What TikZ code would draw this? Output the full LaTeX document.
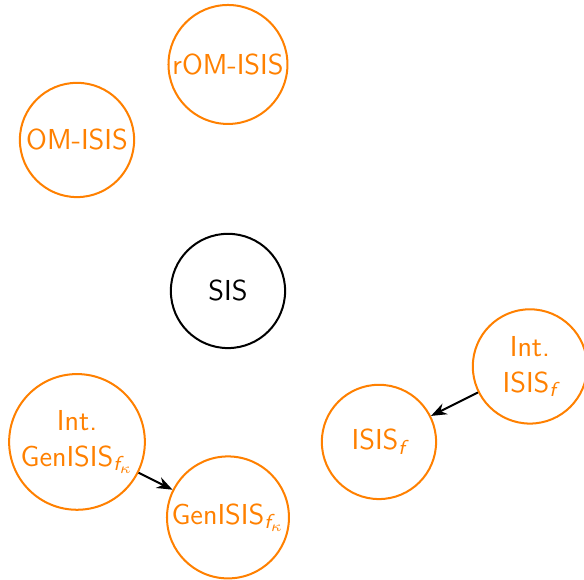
\documentclass[tikz,border=0pt]{standalone}
\usepackage{amsmath,amssymb}
\usepackage{tikz}
\usetikzlibrary{arrows.meta}
\definecolor{scheme}{HTML}{FF8000}
\tikzset{
  variant/.style={draw=scheme,text=scheme,circle,thick,align=center,
    minimum size=1.6cm,inner sep=1pt,font=\sffamily\fontsize{11.5}{14.3}\selectfont},
  base/.style={draw=black,circle,thick,align=center,
    minimum size=1.6cm,inner sep=1pt,font=\sffamily\fontsize{11.5}{14.3}\selectfont},
  arrow/.style={-{Stealth[length=2.2mm]},draw=black,thick}
}
\begin{document}
\begin{tikzpicture}[x=2.114cm,y=-1.057cm]
  \useasboundingbox (-0.51,-0.854) rectangle (3.358,6.828);
  \node[base] (sis) at (1,3) {SIS};
  \node[variant] (romisis) at (1,0) {rOM-ISIS};
  \node[variant] (omisis) at (0,1) {OM-ISIS};
  \node[variant] (intisis) at (3,4) {Int.\\ISIS$_{\textsl{f}}$};
  \node[variant] (isis) at (2,5) {ISIS$_{\textsl{f}}$};
  \node[variant] (intgen) at (0,5) {Int.\\GenISIS$_{\textsl{f}_{\kappa}}$};
  \node[variant] (gen) at (1,6) {GenISIS$_{\textsl{f}_{\kappa}}$};
  \draw[arrow] (intisis)--(isis);
  \draw[arrow] (intgen)--(gen);
\end{tikzpicture}
\end{document}
